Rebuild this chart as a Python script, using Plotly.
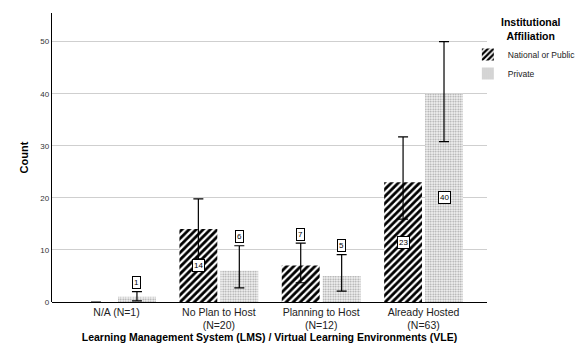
import plotly.graph_objects as go

# Survey counts by LMS/VLE hosting status and institutional affiliation
categories = ["N/A (N=1)", "No Plan to Host<br>(N=20)", "Planning to Host<br>(N=12)", "Already Hosted<br>(N=63)"]
national = [0, 14, 7, 23]
private = [1, 6, 5, 40]
# 95% CI bounds for each count
national_hi = [None, 19.8, 11.3, 31.7]
national_lo = [None, 8.3, 3.7, 15.9]
private_hi = [2.0, 10.8, 9.1, 50.0]
private_lo = [0.2, 2.7, 2.1, 30.8]

FONT = "Liberation Sans"
idx = list(range(len(categories)))
bar_w = 0.37
gap = 0.03

def err(vals, hi, lo):
    up = [(h - v) if h is not None else None for v, h in zip(vals, hi)]
    dn = [(v - l) if l is not None else None for v, l in zip(vals, lo)]
    return up, dn

n_up, n_dn = err(national, national_hi, national_lo)
p_up, p_dn = err(private, private_hi, private_lo)

fig = go.Figure()
fig.add_trace(go.Bar(
    x=idx, y=national, name="National or Public",
    width=bar_w, offset=-bar_w - gap / 2,
    marker=dict(color="white", line=dict(width=0),
                pattern=dict(shape="/", fgcolor="black", bgcolor="white", fgopacity=1,
                             size=5, solidity=0.55)),
    error_y=dict(type="data", symmetric=False, array=n_up, arrayminus=n_dn,
                 color="black", thickness=1.2, width=5),
))
fig.add_trace(go.Bar(
    x=idx, y=private, name="Private",
    width=bar_w, offset=gap / 2,
    marker=dict(color="white", line=dict(width=0),
                pattern=dict(shape=".", fgcolor="#a0a0a0", bgcolor="#f6f6f6", fgopacity=1,
                             size=2.5, solidity=0.4)),
    error_y=dict(type="data", symmetric=False, array=p_up, arrayminus=p_dn,
                 color="black", thickness=1.2, width=5),
))

# Boxed value labels: centred in the bar when it is tall enough, otherwise above the CI cap
def label_pos(v, hi):
    if v == 0:
        return None
    if v >= 12:
        return v / 2
    return (hi if hi is not None else v) + 1.7

for vals, his, shift in [(national, national_hi, -bar_w / 2 - gap / 2), (private, private_hi, bar_w / 2 + gap / 2)]:
    for i, (v, h) in enumerate(zip(vals, his)):
        yp = label_pos(v, h)
        if yp is None:
            continue
        fig.add_annotation(
            x=i + shift, y=yp, xref="x", yref="y", text=str(v), showarrow=False,
            font=dict(family=FONT, size=8, color="black"),
            bgcolor="white", bordercolor="black", borderwidth=1, borderpad=1,
        )

# Legend heading, centred over the legend entries
fig.add_annotation(
    x=1.101, y=0.945, xref="paper", yref="paper", xanchor="center", yanchor="middle",
    text="<b>Institutional<br>Affiliation</b>", showarrow=False, align="center",
    font=dict(family=FONT, size=10.5, color="black"),
)

fig.update_layout(
    width=587, height=354,
    margin=dict(l=52, r=100, t=13, b=52, autoexpand=False),
    paper_bgcolor="white", plot_bgcolor="white",
    font=dict(family=FONT, color="black"),
    showlegend=True,
    legend=dict(
        x=0.956, y=0.907, xanchor="left", yanchor="top",
        font=dict(family=FONT, size=8.5, color="#222"),
        tracegroupgap=0, itemwidth=30, itemsizing="constant",
        bgcolor="rgba(0,0,0,0)",
    ),
    xaxis=dict(
        range=[-0.63, 3.62], tickmode="array", tickvals=idx, ticktext=categories,
        showgrid=False, zeroline=False, showline=False, ticks="",
        ticklabelstandoff=2,
        tickfont=dict(family=FONT, size=10.5, color="#222"),
        title=dict(text="<b>Learning Management System (LMS) / Virtual Learning Environments (VLE)</b>",
                   font=dict(family=FONT, size=10.5, color="black"), standoff=1),
    ),
    yaxis=dict(
        range=[0, 55.5], tickvals=[0, 10, 20, 30, 40, 50],
        showgrid=True, gridcolor="#cfcfcf", gridwidth=1.3,
        zeroline=True, zerolinecolor="black", zerolinewidth=1.3,
        showline=True, linecolor="black", linewidth=1.3, ticks="",
        tickfont=dict(family=FONT, size=8, color="#333"),
        title=dict(text="<b>Count</b>", font=dict(family=FONT, size=11, color="black"), standoff=9),
    ),
)

fig.write_html("out.html")
